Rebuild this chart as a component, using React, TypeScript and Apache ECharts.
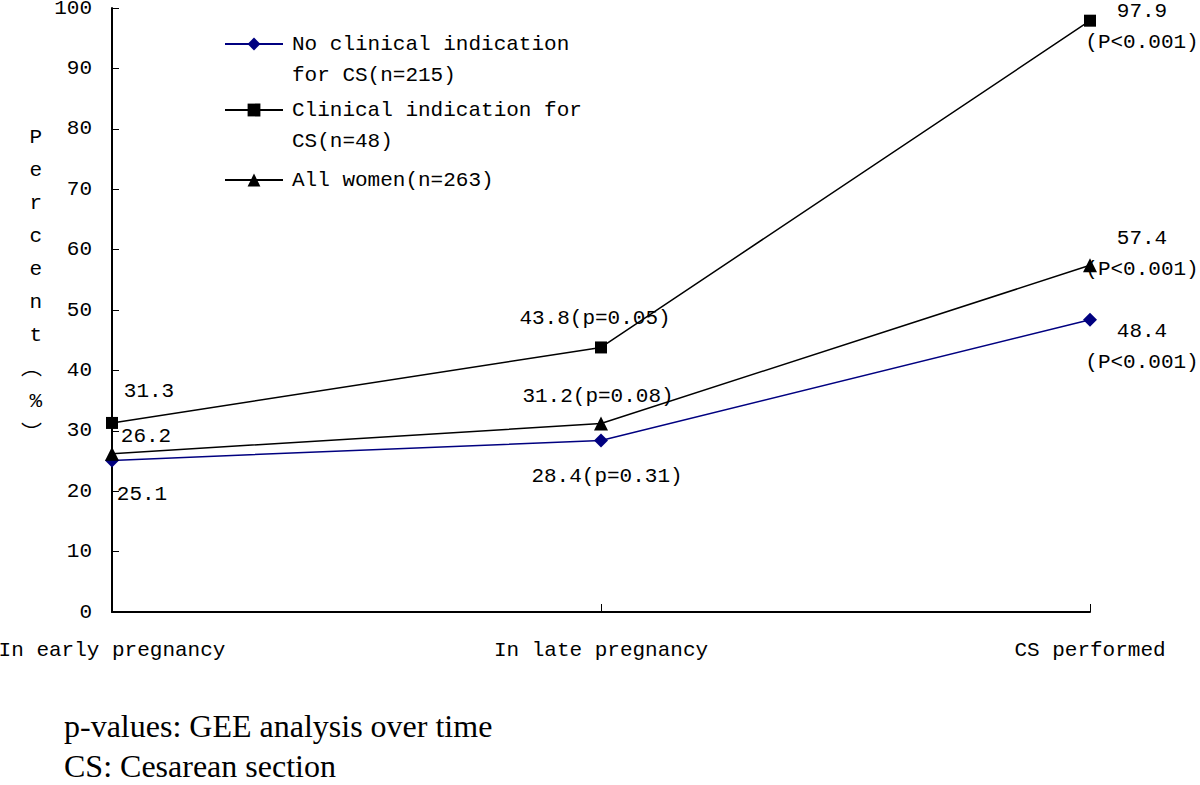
import React, { useEffect, useRef } from "react";
import * as echarts from "echarts";

const categories = ["In early pregnancy", "In late pregnancy", "CS performed"];
const seriesNames = [
  "No clinical indication\nfor CS(n=215)",
  "Clinical indication for\nCS(n=48)",
  "All women(n=263)",
];
const noIndication = [25.1, 28.4, 48.4];
const clinicalIndication = [31.3, 43.8, 97.9];
const allWomen = [26.2, 31.2, 57.4];

const noIndicationLabels = ["25.1", "28.4(p=0.31)", "48.4\n(P<0.001)"];
const clinicalLabels = ["31.3", "43.8(p=0.05)", "97.9\n(P<0.001)"];
const allWomenLabels = ["26.2", "31.2(p=0.08)", "57.4\n(P<0.001)"];

const noIndicationOffsets = [[30, 34], [6, 36], [52, 27]];
const clinicalOffsets = [[37, -31], [-6, -29], [52, 6]];
const allWomenOffsets = [[34, -17], [-3, -27], [52, -11]];

const yTicks = { min: 0, max: 100, interval: 10 };
const yAxisTitleChars = ["P", "e", "r", "c", "e", "n", "t", "︵", "%", "︶"];
const footnotes = ["p-values: GEE analysis over time", "CS: Cesarean section"];

const FONT = "'Liberation Mono', 'Noto Sans CJK SC', monospace";
const FS = 21;
const LH = 31;

function buildData(values: number[], labels: string[], offsets: number[][]) {
  return values.map((v, i) => ({
    value: v,
    label: {
      show: true,
      position: "inside",
      offset: offsets[i],
      formatter: labels[i],
      color: "#000",
      fontFamily: FONT,
      fontSize: FS,
      lineHeight: LH,
      align: "center",
      verticalAlign: "middle",
    },
  }));
}

function legendFor(name: string, firstLineY: number, lines: number) {
  const multi = lines > 1;
  const blockH = multi ? LH * (lines + 1) : LH;
  const firstCenter = multi ? LH * 1.5 : LH / 2;
  return {
    orient: "vertical",
    left: 224,
    top: firstLineY - firstCenter,
    padding: 0,
    data: [name],
    itemWidth: 58,
    itemHeight: 16,
    selectedMode: false,
    formatter: (n: string) => (multi ? " \n" + n : n),
    textStyle: {
      color: "#000",
      fontFamily: FONT,
      fontSize: FS,
      lineHeight: LH,
      height: blockH,
      padding: [0, 0, 0, 4],
    },
  };
}

export default function App() {
  const ref = useRef<HTMLDivElement>(null);
  useEffect(() => {
    if (!ref.current) return;
    const chart = echarts.init(ref.current, undefined, { renderer: "svg" });
    chart.setOption({
      animation: false,
      backgroundColor: "#fff",
      grid: {
        left: 112,
        right: 110,
        top: 8,
        bottom: 173,
        containLabel: false,
        outerBoundsMode: "none",
      },
      legend: [
        legendFor(seriesNames[0], 44, 2),
        legendFor(seriesNames[1], 110, 2),
        legendFor(seriesNames[2], 180, 1),
      ],
      xAxis: {
        type: "category",
        data: categories,
        boundaryGap: false,
        axisLine: { lineStyle: { color: "#000", width: 2 } },
        axisTick: { inside: true, length: 8, lineStyle: { color: "#000", width: 1 }, alignWithLabel: true },
        axisLabel: { color: "#000", fontFamily: FONT, fontSize: FS, margin: 28 },
        splitLine: { show: false },
      },
      yAxis: {
        type: "value",
        min: yTicks.min,
        max: yTicks.max,
        interval: yTicks.interval,
        name: yAxisTitleChars.map((c) => "{a|" + c + "}").join("\n") + "\n{b| }",
        nameLocation: "middle",
        nameRotate: 0,
        nameGap: 70,
        nameTextStyle: {
          color: "#000",
          fontFamily: FONT,
          fontSize: FS,
          rich: {
            a: { fontFamily: FONT, fontSize: FS, lineHeight: 33, color: "#000" },
            b: { fontFamily: FONT, fontSize: FS, lineHeight: 48, color: "#000" },
          },
        },
        axisLine: { show: true, lineStyle: { color: "#000", width: 2 } },
        axisTick: { show: true, inside: true, length: 7, lineStyle: { color: "#000", width: 1 } },
        axisLabel: { color: "#000", fontFamily: FONT, fontSize: FS, margin: 20 },
        splitLine: { show: false },
      },
      series: [
        {
          name: seriesNames[0],
          type: "line",
          data: buildData(noIndication, noIndicationLabels, noIndicationOffsets),
          symbol: "diamond",
          symbolSize: 14,
          itemStyle: { color: "#000080" },
          lineStyle: { color: "#000080", width: 1.5 },
          z: 3,
        },
        {
          name: seriesNames[1],
          type: "line",
          data: buildData(clinicalIndication, clinicalLabels, clinicalOffsets),
          symbol: "rect",
          symbolSize: 12,
          itemStyle: { color: "#000" },
          lineStyle: { color: "#000", width: 1.5 },
          z: 4,
        },
        {
          name: seriesNames[2],
          type: "line",
          data: buildData(allWomen, allWomenLabels, allWomenOffsets),
          symbol: "triangle",
          symbolSize: 14,
          itemStyle: { color: "#000" },
          lineStyle: { color: "#000", width: 1.5 },
          z: 5,
        },
      ],
      graphic: footnotes.map((t, i) => ({
        type: "text",
        left: 64,
        top: 710 + i * 40,
        style: {
          text: t,
          fill: "#000",
          font: "32px 'Liberation Serif', serif",
        },
      })),
    });
    return () => chart.dispose();
  }, []);
  return (
    <div
      ref={ref}
      style={{ position: "fixed", left: 0, top: 0, width: 1200, height: 785 }}
    />
  );
}
